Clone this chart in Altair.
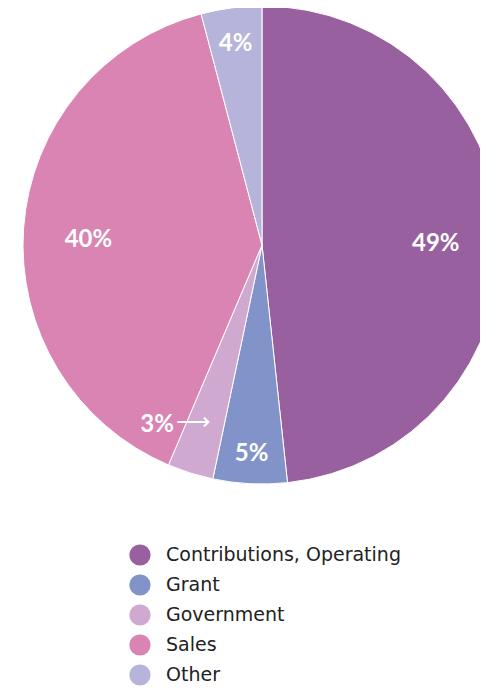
import altair as alt
import pandas as pd

categories = ["Contributions, Operating", "Grant", "Government", "Sales", "Other"]
shares = [48.3, 5.0, 3.1, 39.5, 4.1]
labels = ["49%", "5%", "3%", "40%", "4%"]
colors = ["#98609e", "#8193c8", "#cfa9cf", "#d984b3", "#b6b4da"]

df = pd.DataFrame({
    "category": categories,
    "share": shares,
    "label": labels,
    "order": list(range(len(categories))),
})

CX, CY, R = 254, 237, 239

base = alt.Chart(df).encode(
    theta=alt.Theta("share:Q", stack=True),
    order=alt.Order("order:Q"),
    x=alt.value(CX),
    y=alt.value(CY),
)

pie = base.mark_arc(radius=R, stroke="white", strokeWidth=1).encode(
    color=alt.Color(
        "category:N",
        sort=categories,
        scale=alt.Scale(domain=categories, range=colors),
        legend=alt.Legend(
            title=None, orient="none", legendX=121, legendY=536,
            symbolType="circle", symbolSize=450, symbolStrokeWidth=0,
            symbolOpacity=1, labelFontSize=19, labelFont="DejaVu Sans",
            labelColor="#222222", labelOffset=15, rowPadding=8,
            labelLimit=0,
        ),
    )
)

txt_style = dict(font="Lato", fontSize=24, fontWeight="bold", color="white",
                 align="center", baseline="middle")

big = base.transform_calculate(t="datum.share > 10 ? datum.label : ''").mark_text(
    radius=174, dy=8, **txt_style).encode(text="t:N")
small = base.transform_calculate(
    t="(datum.category == 'Grant' || datum.category == 'Other') ? datum.label : ''"
).mark_text(radius=206, dy=3, **txt_style).encode(text="t:N")
gov = base.transform_calculate(
    t="datum.category == 'Government' ? datum.label : ''"
).mark_text(radius=207, dy=2, thetaOffset=0.227, **txt_style).encode(text="t:N")
arrow = base.transform_calculate(
    t="datum.category == 'Government' ? '⟶' : ''"
).mark_text(radius=191, thetaOffset=0.065, font="DejaVu Sans", fontSize=24,
            fontWeight=200, color="white", align="center",
            baseline="middle").encode(text="t:N")

chart = alt.layer(pie, big, small, gov, arrow).properties(
    width=472, height=681, autosize=alt.AutoSizeParams(type="none"), padding=0
).configure_view(stroke=None)

chart.save("out.html", embed_options={"renderer": "svg", "actions": False})
